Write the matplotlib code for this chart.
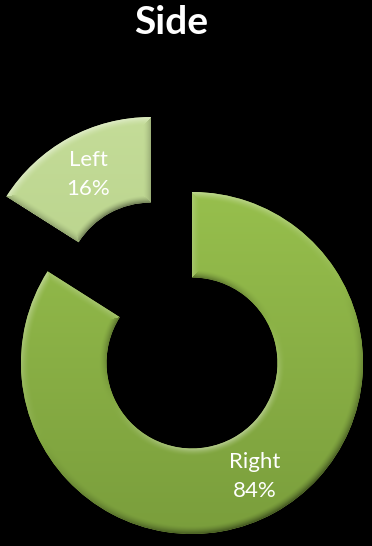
#!/usr/bin/env python3
"""Donut chart of side split (Right / Left) with a soft bevelled finish."""
import numpy as np
import matplotlib
matplotlib.use("Agg")
import matplotlib.pyplot as plt

LABELS = ["Right", "Left"]
SHARES = [84, 16]
EXPLODE = [0.0, 0.5]
TOP_COLORS = ["#97BF4D", "#C4DC98"]
BOTTOM_COLORS = ["#7A9E3C", "#AECA80"]

TITLE = "Side"
FONT = ["Lato", "DejaVu Sans"]

# canvas in pixels and the donut placement on it
W, H = 372, 546
CX, CY, R = 192, 363, 171
BEVEL = 8 / R
LIGHT = np.array([-0.45, 0.89])


def _hex(c):
    return np.array(matplotlib.colors.to_rgb(c))


def shade_wedge(ax, wedge, top, bottom, extent):
    """Paint a gradient + bevel image clipped to the wedge outline."""
    cx, cy = wedge.center
    r_out = wedge.r
    r_in = r_out - wedge.width
    t1, t2 = np.radians(wedge.theta1), np.radians(wedge.theta2)

    x = np.linspace(extent[0], extent[1], W)
    y = np.linspace(extent[3], extent[2], H)
    X, Y = np.meshgrid(x, y)
    dx, dy = X - cx, Y - cy
    rr = np.maximum(np.hypot(dx, dy), 1e-9)
    th = np.arctan2(dy, dx)
    a1 = np.mod(th - t1, 2 * np.pi)
    a2 = np.mod(t2 - th, 2 * np.pi)

    d = np.stack([
        r_out - rr,
        rr - r_in,
        rr * np.sin(np.minimum(a1, np.pi / 2)),
        rr * np.sin(np.minimum(a2, np.pi / 2)),
    ])
    ux, uy = dx / rr, dy / rr
    nx = np.stack([ux, -ux, np.full_like(ux, np.sin(t1)), np.full_like(ux, -np.sin(t2))])
    ny = np.stack([uy, -uy, np.full_like(uy, -np.cos(t1)), np.full_like(uy, np.cos(t2))])
    k = np.argmin(d, axis=0)[None]
    dmin = np.take_along_axis(d, k, 0)[0]
    lam = (np.take_along_axis(nx, k, 0)[0] * LIGHT[0]
           + np.take_along_axis(ny, k, 0)[0] * LIGHT[1])
    tilt = np.clip(1 - dmin / BEVEL, 0, 1) ** 1.6

    t = np.clip((cy + r_out - Y) / (2 * r_out), 0, 1)[..., None]
    base = _hex(top) * (1 - t) + _hex(bottom) * t
    s = (tilt * lam)[..., None] * 0.45
    img = np.where(s > 0, base + (1 - base) * s, base * (1 + s))
    img = np.clip(img, 0, 1)

    im = ax.imshow(img, extent=extent, origin="upper", zorder=2,
                   interpolation="bilinear")
    im.set_clip_path(wedge)


def main():
    fig = plt.figure(figsize=(W / 100, H / 100), dpi=100, facecolor="black")
    ax = fig.add_axes([0, 0, 1, 1])
    ax.set_facecolor("black")

    names = iter(LABELS)
    wedges, _, autotexts = ax.pie(
        SHARES,
        explode=EXPLODE,
        startangle=90,
        counterclock=False,
        radius=1.0,
        colors=TOP_COLORS,
        autopct=lambda p: f"{next(names)}\n{p:.0f}%",
        pctdistance=0.76,
        wedgeprops=dict(width=0.5, linewidth=0),
    )

    extent = (-CX / R, (W - CX) / R, -(H - CY) / R, CY / R)
    ax.set_xlim(extent[0], extent[1])
    ax.set_ylim(extent[2], extent[3])
    ax.set_aspect("equal")
    ax.axis("off")

    for w, top, bot in zip(wedges, TOP_COLORS, BOTTOM_COLORS):
        shade_wedge(ax, w, top, bot, extent)

    for t in autotexts:
        t.set(color="white", fontsize=16, family=FONT, zorder=5,
              linespacing=1.55, ha="center", va="center")

    fig.text(171 / W, 1 - 34 / H, TITLE, ha="center", va="baseline",
             color="white", fontsize=28, fontweight="bold", family=FONT)

    fig.savefig("out.png", dpi=100, facecolor="black")


if __name__ == "__main__":
    main()
